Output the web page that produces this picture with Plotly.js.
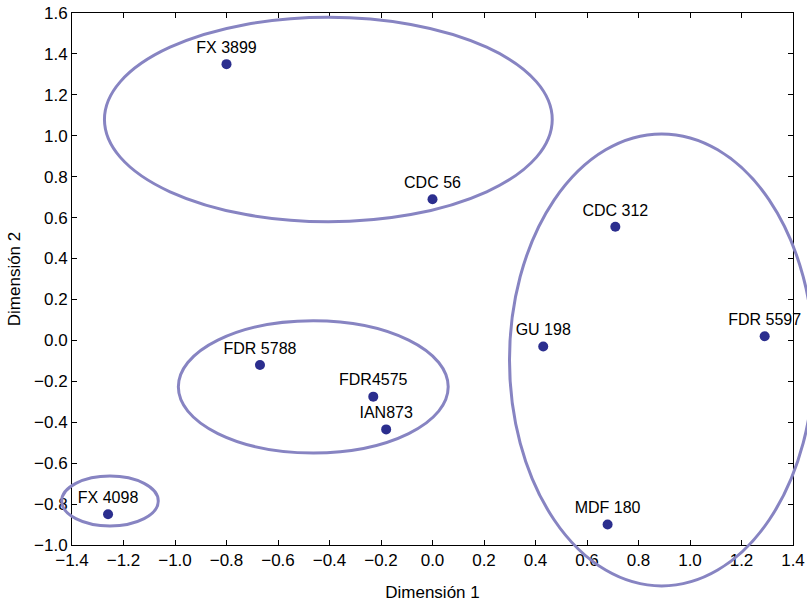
<!DOCTYPE html>
<html>
<head>
<meta charset="utf-8">
<script src="https://cdn.plot.ly/plotly-3.0.1.min.js"></script>
<style>html,body{margin:0;padding:0;background:#fff;}#chart{width:807px;height:603px;}</style>
</head>
<body>
<div id="chart"></div>
<script>
// Data points (Dimensión 1, Dimensión 2)
var labels = ["FX 3899", "CDC 56", "CDC 312", "GU 198", "FDR 5597", "FDR 5788", "FDR4575", "IAN873", "FX 4098", "MDF 180"];
var dim1   = [-0.80, 0.00, 0.71, 0.43, 1.29, -0.67, -0.23, -0.18, -1.26, 0.68];
var dim2   = [1.35, 0.69, 0.555, -0.03, 0.02, -0.12, -0.275, -0.435, -0.85, -0.90];

// Cluster ellipses (bounding boxes in data units)
var ellX0 = [-1.274, -0.987, -1.44, 0.299];
var ellX1 = [0.465, 0.061, -1.065, 1.481];
var ellY0 = [0.580, -0.55, -0.907, -1.200];
var ellY1 = [1.579, 0.096, -0.663, 1.009];

// Axis ticks
var xTicks = [-1.4, -1.2, -1.0, -0.8, -0.6, -0.4, -0.2, 0.0, 0.2, 0.4, 0.6, 0.8, 1.0, 1.2, 1.4];
var yTicks = [-1.0, -0.8, -0.6, -0.4, -0.2, 0.0, 0.2, 0.4, 0.6, 0.8, 1.0, 1.2, 1.4, 1.6];

var W = 807, H = 603;
var L = 72, R = 793, T = 13, B = 545;
var xr = [-1.4, 1.4], yr = [-1.0, 1.6];
var kx = (xr[1] - xr[0]) / (R - L), ky = (yr[1] - yr[0]) / (B - T);

var font = "Liberation Sans, Arial, Helvetica, sans-serif";

var traces = [
  {
    x: dim1, y: dim2, text: labels,
    type: "scatter", mode: "markers+text",
    textposition: "top center",
    textfont: {family: font, size: 16, color: "#000"},
    marker: {size: 10, color: "#2b2e8e"},
    cliponaxis: false,
    hoverinfo: "x+y+text", showlegend: false
  },
  {x: [], y: [], xaxis: "x2", yaxis: "y2", type: "scatter", mode: "markers", showlegend: false, hoverinfo: "skip"}
];

var shapes = [];
for (var i = 0; i < ellX0.length; i++) {
  shapes.push({
    type: "circle", xref: "x2", yref: "y2",
    x0: ellX0[i], x1: ellX1[i], y0: ellY0[i], y1: ellY1[i],
    line: {color: "rgb(135,132,194)", width: 3}, layer: "above"
  });
}

var axCommon = {
  showgrid: false, zeroline: false, showline: true, linecolor: "#000", linewidth: 1,
  ticks: "inside", ticklen: 5, tickcolor: "#000", mirror: "ticks",
  tickfont: {family: font, size: 17, color: "#000"}, tickformat: ".1f", fixedrange: true
};

var layout = {
  width: W, height: H,
  margin: {l: 0, r: 0, t: 0, b: 0},
  paper_bgcolor: "#fff", plot_bgcolor: "rgba(0,0,0,0)",
  showlegend: false,
  xaxis: Object.assign({}, axCommon, {
    domain: [L / W, R / W], range: xr, tickvals: xTicks, anchor: "y",
    title: {text: "Dimensión 1", font: {family: font, size: 17, color: "#000"}, standoff: 16}
  }),
  yaxis: Object.assign({}, axCommon, {
    domain: [(H - B) / H, (H - T) / H], range: yr, tickvals: yTicks, anchor: "x",
    title: {text: "Dimensión 2", font: {family: font, size: 17, color: "#000"}, standoff: 9}
  }),
  xaxis2: {domain: [0, 1], range: [xr[0] - L * kx, xr[1] + (W - R) * kx], visible: false, anchor: "y2", fixedrange: true},
  yaxis2: {domain: [0, 1], range: [yr[0] - (H - B) * ky, yr[1] + T * ky], visible: false, anchor: "x2", fixedrange: true},
  shapes: shapes
};

Plotly.newPlot("chart", traces, layout, {displayModeBar: false, staticPlot: true});
</script>
</body>
</html>
